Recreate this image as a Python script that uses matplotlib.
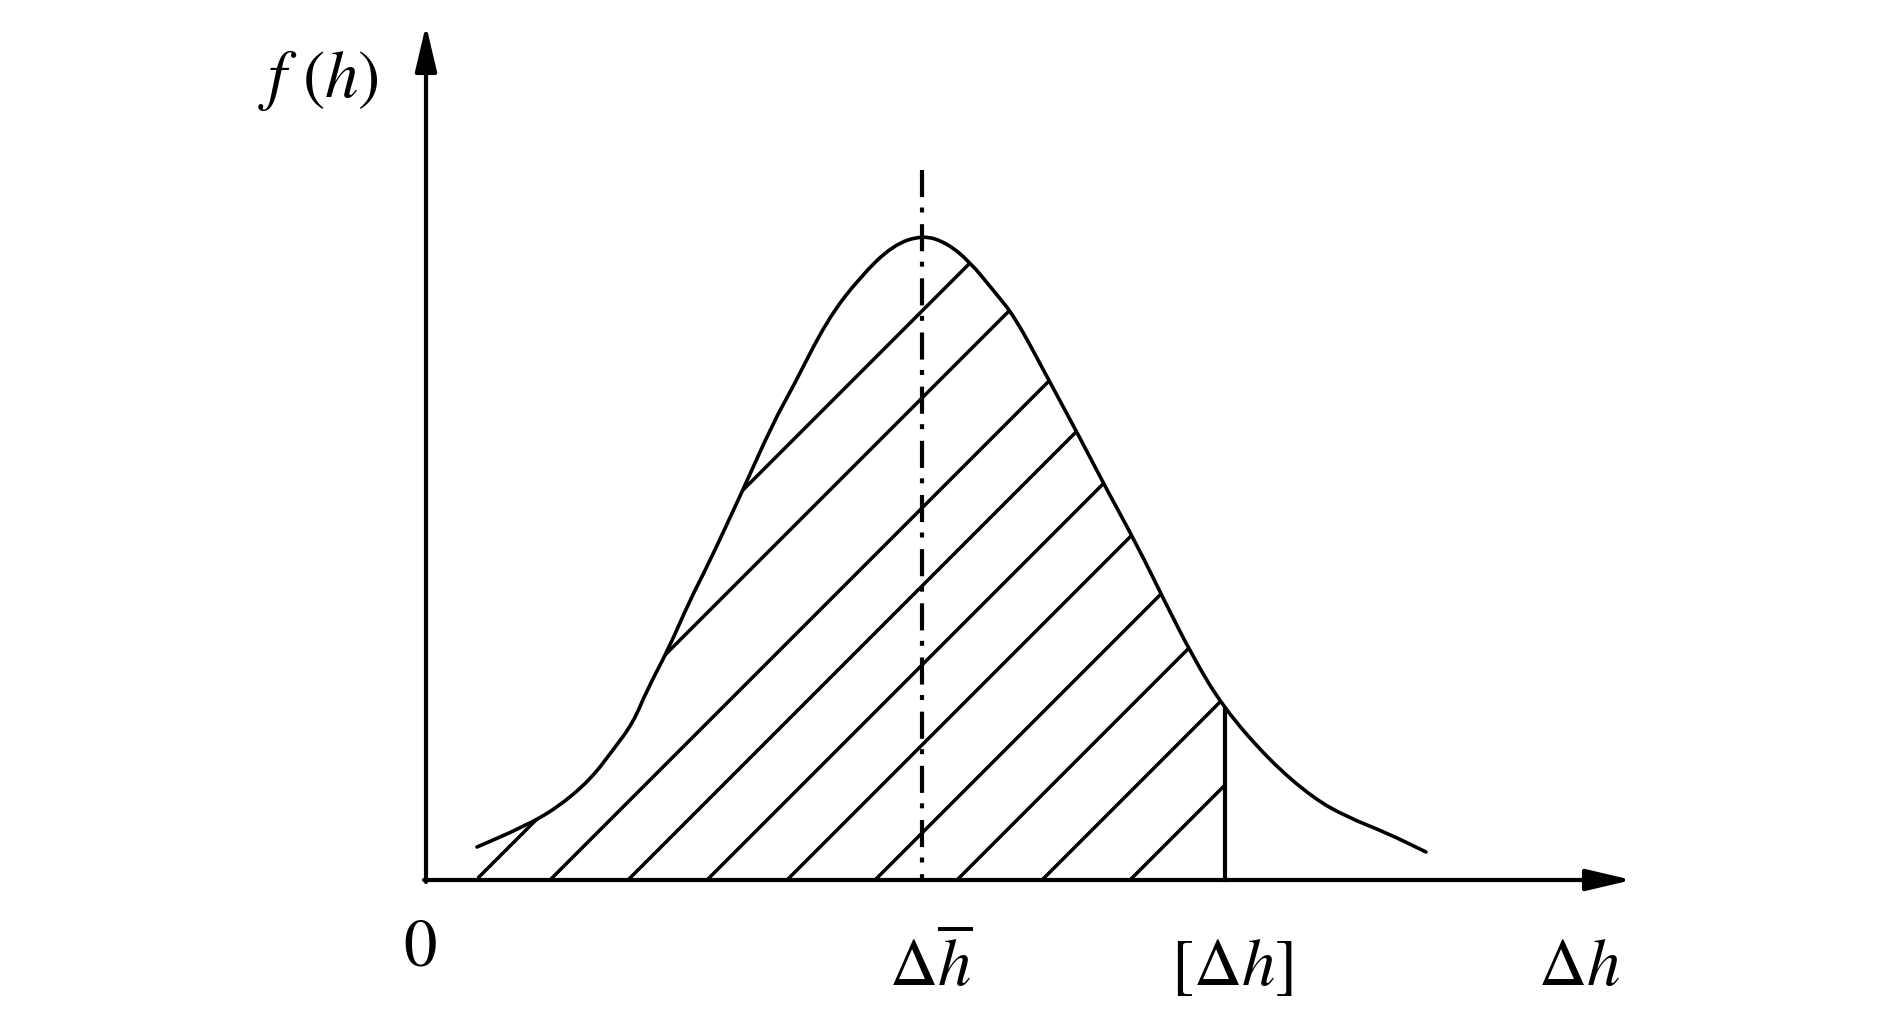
import numpy as np
import matplotlib
matplotlib.use('Agg')
import matplotlib.pyplot as plt
from matplotlib.patches import PathPatch
from matplotlib.path import Path
from matplotlib.transforms import Bbox, TransformedBbox

plt.rcParams['mathtext.fontset'] = 'stix'
plt.rcParams['font.family'] = 'STIXGeneral'

# density curve f(h) (1 unit = 100 px)
curve_x = [0.51, 0.97, 1.31, 1.64, 1.87, 2.07, 2.21, 2.42, 2.64, 2.81, 3.16,
           3.47, 3.67, 4.01, 4.34, 4.67, 4.97, 5.21, 5.44, 5.67, 5.89, 6.19,
           6.54, 6.81, 7.11, 7.39, 7.67, 7.97, 8.43, 8.87, 9.21, 9.61, 10.00]
curve_y = [0.33, 0.53, 0.72, 1.00, 1.30, 1.57, 1.90, 2.30, 2.80, 3.13, 3.88,
           4.57, 4.93, 5.60, 6.03, 6.35, 6.45, 6.37, 6.18, 5.90, 5.63, 5.07,
           4.42, 3.90, 3.35, 2.78, 2.23, 1.73, 1.20, 0.82, 0.63, 0.47, 0.28]

mean_x = 4.96      # position of the mean, dash-dot line
mean_top = 7.10
limit_x = 7.99     # allowed value [dh]

# 45 degree hatch lines, given by where they cross the x axis
hatch_x0 = [-0.73, 0.14, 1.24, 2.02, 2.81, 3.61, 4.49, 5.31, 6.16, 7.04]
tail_hatch_x0 = 0.50   # short stroke in the left tail

x_tip, y_tip = 12.06, 8.55

fig = plt.figure(figsize=(18.9, 10.16), dpi=100)
ax = fig.add_axes([0, 0, 1, 1])
ax.set_xlim(-4.26, 14.64)
ax.set_ylim(-1.36, 8.80)
ax.axis('off')

# axes with arrows
arrow = dict(arrowstyle='-|>,head_length=1.4,head_width=0.33', mutation_scale=20,
             lw=3.0, color='black', shrinkA=0, shrinkB=0)
ax.annotate('', xy=(x_tip, 0), xytext=(-0.02, 0), arrowprops=arrow)
ax.annotate('', xy=(0, y_tip), xytext=(0, -0.02), arrowprops=arrow)

# smooth curve: quadratic bezier pieces through the midpoints of the read points
pts = np.column_stack([curve_x, curve_y])
verts = [pts[0], (pts[0] + pts[1]) / 2]
codes = [Path.MOVETO, Path.LINETO]
for i in range(1, len(pts) - 1):
    verts += [pts[i], (pts[i] + pts[i + 1]) / 2]
    codes += [Path.CURVE3, Path.CURVE3]
verts.append(pts[-1])
codes.append(Path.LINETO)

ax.add_patch(PathPatch(Path(verts, codes), facecolor='none', edgecolor='black',
                       lw=2.6, joinstyle='round', capstyle='round'))

# area under the curve, used to clip the hatching
area = Path(verts + [(curve_x[-1], 0), (curve_x[0], 0), pts[0]],
            codes + [Path.LINETO, Path.LINETO, Path.CLOSEPOLY])
region = PathPatch(area, facecolor='none', edgecolor='none')
ax.add_patch(region)
box = TransformedBbox(Bbox([[curve_x[0], 0], [limit_x, 10]]), ax.transData)

for x0 in hatch_x0:
    ln, = ax.plot([x0, x0 + 9], [0, 9], color='black', lw=2.5)
    ln.set_clip_path(region)
    ln.set_clip_box(box)
ln, = ax.plot([tail_hatch_x0, tail_hatch_x0 + 0.6], [0, 0.6], color='black', lw=2.5)
ln.set_clip_path(region)
ln.set_clip_box(box)

# [dh] limit line
top = np.interp(limit_x, curve_x, curve_y)
ax.plot([limit_x, limit_x], [0, top], color='black', lw=3.0)

# mean line, drawn from the top down so it starts with a dash
ax.plot([mean_x, mean_x], [mean_top, 0.0], color='black', lw=3.0,
        linestyle=(0, (6.5, 2.5, 1.2, 2.8)))

# labels
fs = 48
ax.text(-1.08, 7.83, r'$f\ (h)$', fontsize=fs, ha='center', va='baseline')
ax.text(-0.06, -0.85, r'$0$', fontsize=fs, ha='center', va='baseline')
ax.text(5.05, -1.05, r'$\Delta\overline{h}$', fontsize=fs, ha='center', va='baseline')
ax.text(8.06, -1.05, r'$[\Delta h]$', fontsize=fs, ha='center', va='baseline')
ax.text(11.53, -1.05, r'$\Delta h$', fontsize=fs, ha='center', va='baseline')

fig.savefig('out.png', dpi=100)
